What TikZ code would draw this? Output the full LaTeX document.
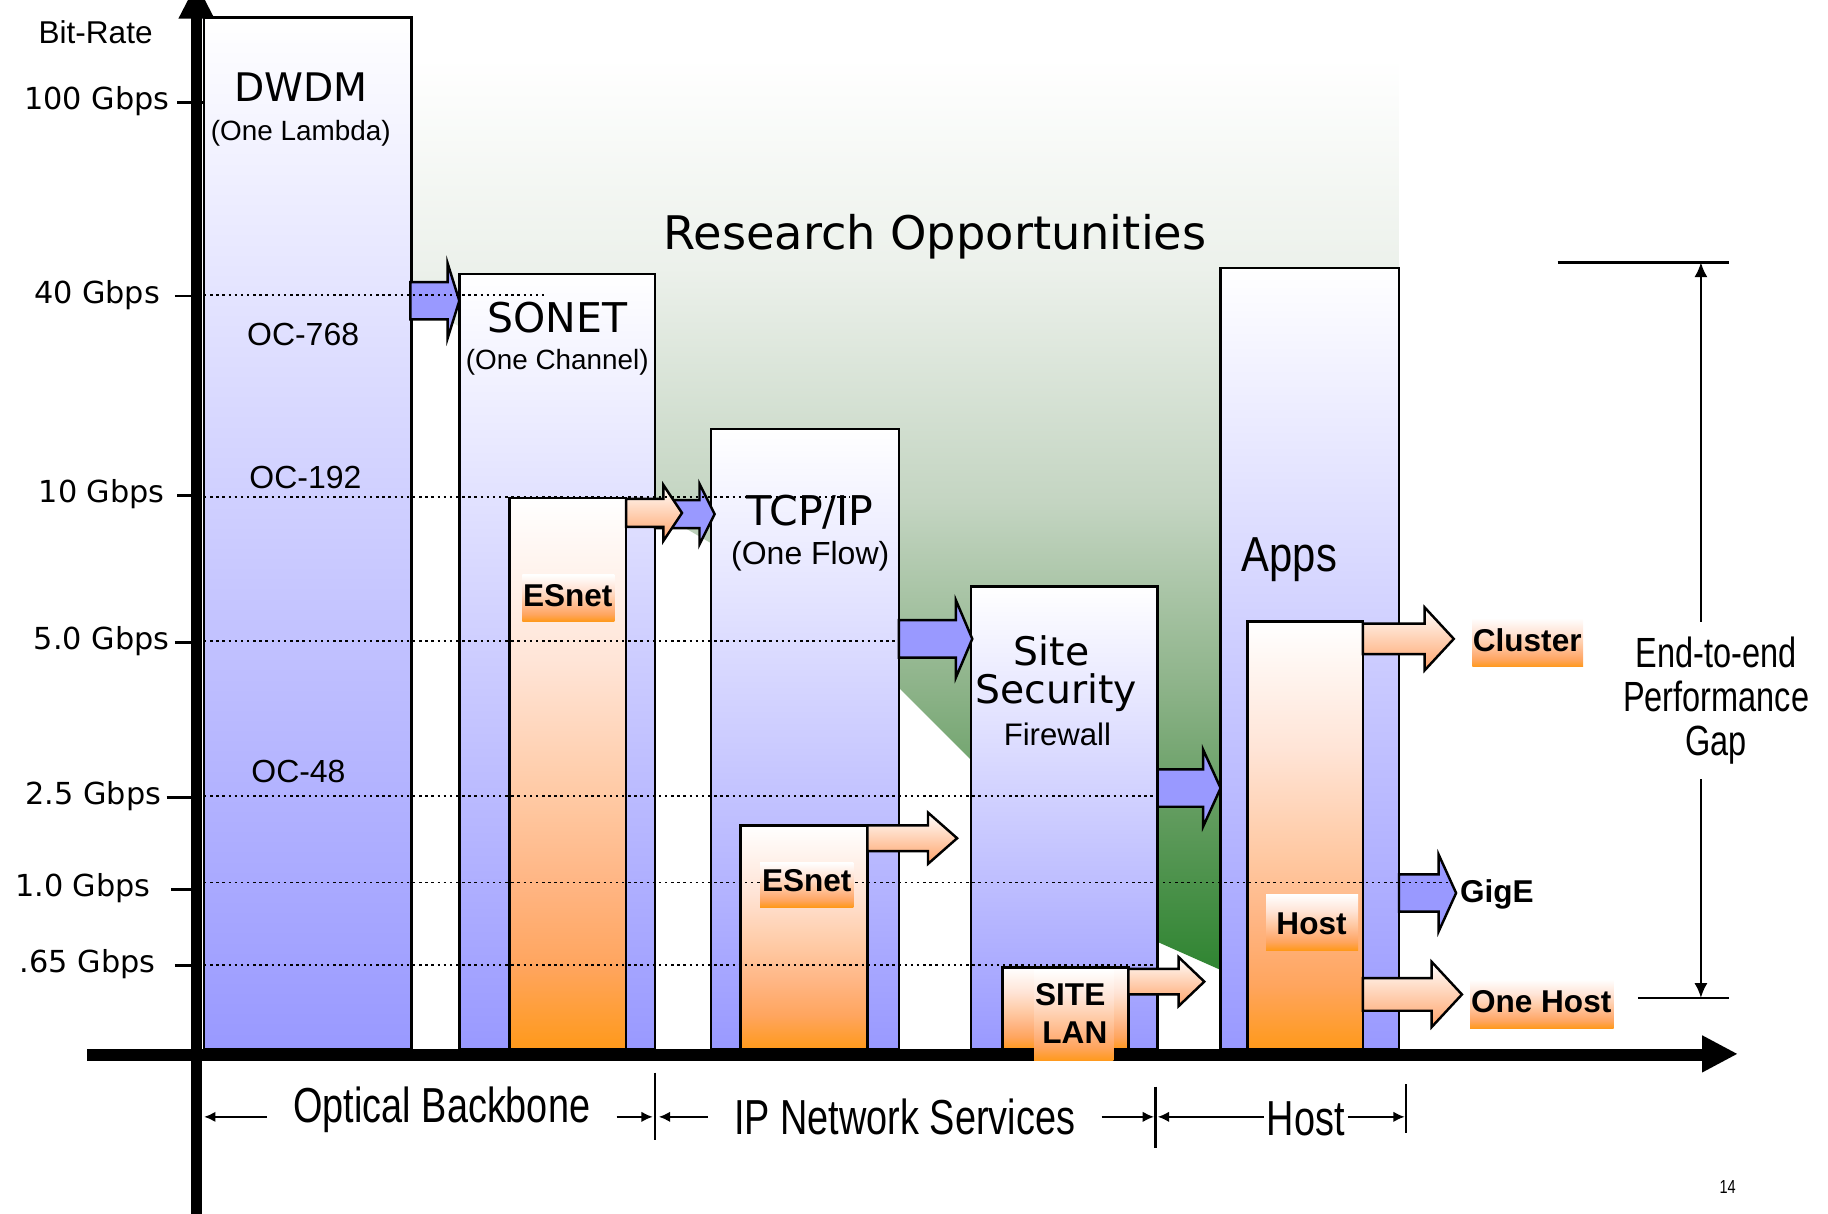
\documentclass[tikz,border=0pt]{standalone}
\usepackage{fontspec}
\usetikzlibrary{arrows.meta,calc}
\newfontfamily\vfont{DejaVu Sans}
\newfontfamily\afont{Liberation Sans}
\newfontfamily\nfont[FakeStretch=0.77]{Liberation Sans}
\newfontfamily\appsfont[FakeStretch=0.85]{Liberation Sans}
\definecolor{BoxClr}{RGB}{153,153,255}
\definecolor{ArrowOrClr}{RGB}{255,163,105}
\definecolor{EsO0}{RGB}{255,228,214}
\definecolor{EsO1}{RGB}{255,201,163}
\definecolor{EsO2}{RGB}{255,181,131}
\definecolor{EsO3}{RGB}{255,165,94}
\definecolor{EsO4}{RGB}{255,153,26}
\definecolor{ResG0}{RGB}{236,241,235}
\definecolor{ResG1}{RGB}{196,213,194}
\definecolor{ResG2}{RGB}{141,179,137}
\definecolor{ResG3}{RGB}{96,155,93}
\definecolor{ResG4}{RGB}{48,133,50}
\definecolor{ResG5}{RGB}{44,128,46}
\pgfdeclareverticalshading{ResShade}{100bp}{color(0bp)=(ResG5); color(25bp)=(ResG5); color(28bp)=(ResG4); color(35.8bp)=(ResG3); color(42.5bp)=(ResG2); color(52.1bp)=(ResG1); color(64.2bp)=(ResG0); color(75bp)=(white); color(100bp)=(white)}
\pgfdeclareverticalshading{EsShade}{100bp}{color(0bp)=(EsO4); color(25bp)=(EsO4); color(32.5bp)=(EsO3); color(40bp)=(EsO2); color(47.75bp)=(EsO1); color(60bp)=(EsO0); color(75bp)=(white); color(100bp)=(white)}
% shaft from #2 to #3, head to #4, centre #5, half shaft #6, half head #7
\newcommand{\BlockArrow}[7][]{\path[#1] (#2,#5-#6) -- (#3,#5-#6) -- (#3,#5-#7) -- (#4,#5) -- (#3,#5+#7) -- (#3,#5+#6) -- (#2,#5+#6) -- cycle;}

\begin{document}
\begin{tikzpicture}[x=0.1mm,y=-0.1mm,
  bluebox/.style={draw=black,line width=0.6pt,top color=white,bottom color=BoxClr},
  esbox/.style={draw=black,line width=0.6pt,shading=EsShade},
  tag/.style={shading=EsShade},
  bluearrow/.style={draw=black,line width=0.6pt,fill=BoxClr,line join=miter},
  orarrow/.style={draw=black,line width=0.6pt,top color=white,bottom color=ArrowOrClr,line join=miter},
  level/.style={line width=0.45pt,dash pattern=on 0.6pt off 0.9pt},
  tick/.style={line width=0.6pt},
  ticklbl/.style={anchor=east,inner sep=0,font=\vfont\fontsize{7.4pt}{9pt}\selectfont},
  bigname/.style={inner sep=0,font=\vfont\fontsize{10pt}{12pt}\selectfont},
  sublbl/.style={inner sep=0,font=\afont\fontsize{6.8pt}{8pt}\selectfont},
  oclbl/.style={inner sep=0,font=\afont\fontsize{7.8pt}{9pt}\selectfont},
  tagtext/.style={inner sep=0,font=\afont\bfseries\fontsize{7.7pt}{9pt}\selectfont},
  spanlbl/.style={inner ysep=0,inner xsep=2.2mm,font=\nfont\fontsize{12pt}{14pt}\selectfont},
  spanarrow/.style={line width=0.6pt,-{Latex[length=2.8pt,width=2.6pt]}},
  gaparrow/.style={line width=0.6pt,-{Latex[length=3.6pt,width=3.2pt]}}]

\useasboundingbox (0,0) rectangle (1568,1041);
\clip (0,0) rectangle (1568,1041);

% research region
\path[shading=ResShade] (353,50) -- (1200,50) -- (1200,880) -- (1047,832) -- (993,808)
  -- (833,652) -- (771,590) -- (610,466) -- (562,438) -- (394,280) -- (353,258) -- cycle;
\node[inner sep=0,font=\vfont\fontsize{11.3pt}{13pt}\selectfont] (research) at (802,203) {Research Opportunities};

% layers
\path[bluebox] (175,15) rectangle (353,900);
\path[bluebox] (394,235) rectangle (562,900);
\path[esbox] (437,427) rectangle (537,900);
\path[bluebox] (610,368) rectangle (771,900);
\path[esbox] (635,708) rectangle (744,900);
\path[bluebox] (833,503) rectangle (993,900);
\path[esbox] (860,830) rectangle (968,900);
\path[bluebox] (1047,230) rectangle (1200,900);
\path[esbox] (1070,533) rectangle (1169,900);

% block arrows
\BlockArrow[bluearrow]{352}{384}{394}{258}{16}{32}
\BlockArrow[bluearrow]{562}{600}{613}{441}{12}{26}
\BlockArrow[orarrow]{537}{569}{585}{440}{12}{24}
\BlockArrow[bluearrow]{771}{820}{834}{548}{16}{33}
\BlockArrow[bluearrow]{993}{1032}{1047}{676}{16}{33}
\BlockArrow[bluearrow]{1200}{1234}{1249}{766}{16}{33}
\BlockArrow[orarrow]{744}{796}{821}{719}{11}{22}
\BlockArrow[orarrow]{968}{1011}{1033}{842}{11}{21}
\BlockArrow[orarrow]{1169}{1222}{1247}{548}{13}{27}
\BlockArrow[orarrow]{1169}{1228}{1254}{853}{14}{28}

% rate levels
\draw[level] (175,253) -- (467,253);
\draw[level] (175,426) -- (729,426);
\draw[level] (175,550) -- (769,550);
\draw[level] (175,683) -- (992,683);
\draw[level] (175,757) -- (1245,757);
\draw[level] (175,828) -- (997,828);

% tags
\path[tag] (448,493) rectangle (527,533);
\path[tag] (652,740) rectangle (732,778);
\path[tag] (1086,767) rectangle (1165,815);
\path[tag] (1263,530) rectangle (1358,572);
\path[tag] (1261,840) rectangle (1384,882);
\node[tagtext] (es1) at (487,511) {ESnet};
\node[tagtext] (es2) at (692,755) {ESnet};
\node[tagtext] (host) at (1125,792) {Host};
\node[tagtext] (cluster) at (1310,549) {Cluster};
\node[tagtext] (gige) at (1284,767) {GigE};
\node[tagtext] (onehost) at (1322,859) {One Host};

% layer names
\node[inner sep=0,font=\vfont\fontsize{9.6pt}{12pt}\selectfont] (dwdm) at (258,75) {DWDM};
\node[sublbl] (lambda) at (258,114) {(One Lambda)};
\node[oclbl] (oc768) at (260,287) {OC-768};
\node[oclbl] (oc192) at (262,410) {OC-192};
\node[oclbl] (oc48) at (256,662) {OC-48};
\node[bigname] (sonet) at (478,272) {SONET};
\node[sublbl] (channel) at (478,311) {(One Channel)};
\node[bigname] (tcpip) at (695,439) {TCP/IP};
\node[oclbl] (flow) at (695,477) {(One Flow)};
\node[inner sep=0,font=\vfont\fontsize{9.6pt}{12pt}\selectfont] (site) at (902,558) {Site};
\node[inner sep=0,font=\vfont\fontsize{9.6pt}{12pt}\selectfont] (security) at (906,594) {Security};
\node[inner sep=0,font=\afont\fontsize{7.6pt}{9pt}\selectfont] (firewall) at (907,630) {Firewall};
\node[inner sep=0,font=\appsfont\fontsize{12pt}{14pt}\selectfont] (apps) at (1106,480) {Apps};

% axes
\draw[line width=0.9mm] (168.5,15) -- (168.5,1041);
\fill (153,16) -- (184,16) -- (168.5,-14) -- cycle;
\draw[line width=1.1mm] (75,905) -- (1462,905);
\fill (1460,888) -- (1490,904) -- (1460,920) -- cycle;

% site lan sits over the axis
\path[tag] (887,832) rectangle (955,910);
\node[tagtext] (sitelbl) at (918,853) {SITE};
\node[tagtext] (lanlbl) at (922,886) {LAN};

% rate ticks
\node[inner sep=0,font=\afont\fontsize{7.7pt}{9pt}\selectfont] (bitrate) at (82,28) {Bit-Rate};
\node[ticklbl] (t100) at (146,87) {100 Gbps};
\node[ticklbl] (t40) at (138,253) {40 Gbps};
\node[ticklbl] (t10) at (142,424) {10 Gbps};
\node[ticklbl] (t5) at (146,550) {5.0 Gbps};
\node[ticklbl] (t25) at (139,683) {2.5 Gbps};
\node[ticklbl] (t1) at (130,762) {1.0 Gbps};
\node[ticklbl] (t065) at (134,827) {.65 Gbps};
\draw[tick] (152,88) -- (176,88);
\draw[tick] (150,254) -- (168,254);
\draw[tick] (152,425) -- (168,425);
\draw[tick] (150,551) -- (168,551);
\draw[tick] (143,684) -- (168,684);
\draw[tick] (147,763) -- (164,763);
\draw[tick] (150,828) -- (164,828);

% performance gap
\coordinate (gaptop) at (1459,225);
\coordinate (gapbot) at (1459,856);
\draw[tick] (1336,225) -- (1483,225);
\draw[tick] (1405,856) -- (1483,856);
\node[inner xsep=0,inner ysep=1.2mm,align=center,font=\nfont\fontsize{10.3pt}{10.8pt}\selectfont] (gap) at (1472,601) {End-to-end\\Performance\\Gap};
\draw[gaparrow] (gap.north -| gaptop) -- (gaptop);
\draw[gaparrow] (gap.south -| gapbot) -- (gapbot);

% spans along the bottom
\node[spanlbl] (optlbl) at (379,952) {Optical Backbone};
\node[spanlbl] (iplbl) at (776,958) {IP Network Services};
\node[spanlbl,inner xsep=0.2mm] (hostlbl) at (1120,960) {Host};
\coordinate (obL) at (175,958);
\coordinate (obR) at (560,958);
\coordinate (ipL) at (565,958);
\coordinate (ipR) at (990,958);
\coordinate (hsL) at (993,958);
\coordinate (hsR) at (1205,958);
\draw[spanarrow] (optlbl.west |- obL) -- (obL);
\draw[spanarrow] (optlbl.east |- obR) -- (obR);
\draw[spanarrow] (iplbl.west |- ipL) -- (ipL);
\draw[spanarrow] (iplbl.east |- ipR) -- (ipR);
\draw[spanarrow] (hostlbl.west |- hsL) -- (hsL);
\draw[spanarrow] (hostlbl.east |- hsR) -- (hsR);
\draw[tick] (562,920) -- (562,978);
\draw[tick] (991,932) -- (991,985);
\draw[tick] (1206,930) -- (1206,972);

\node[inner sep=0,font=\nfont\fontsize{4.6pt}{5pt}\selectfont] (page) at (1482,1018) {14};
\end{tikzpicture}
\end{document}
